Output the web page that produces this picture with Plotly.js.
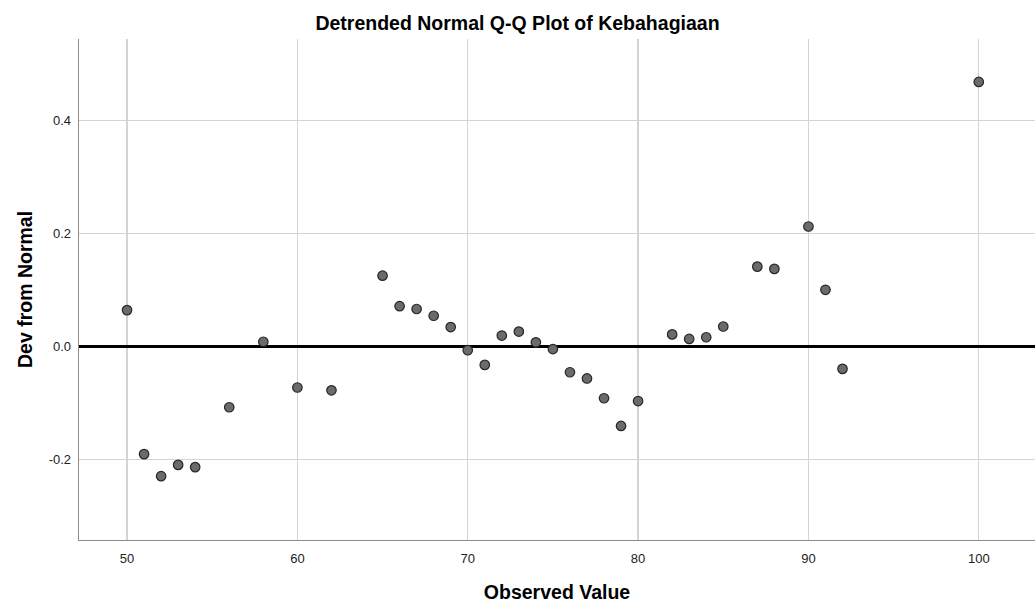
<!DOCTYPE html>
<html>
<head>
<meta charset="utf-8">
<script src="https://cdn.plot.ly/plotly-3.0.1.min.js"></script>
<style>html,body{margin:0;padding:0;background:#fff;}#chart{width:1035px;height:606px;}</style>
</head>
<body>
<div id="chart"></div>
<script>
const observedValues = [50, 51, 52, 53, 54, 56, 58, 60, 62, 65, 66, 67, 68, 69, 70, 71, 72, 73, 74, 75, 76, 77, 78, 79, 80, 82, 83, 84, 85, 87, 88, 90, 91, 92, 100];
const devFromNormal = [0.064, -0.191, -0.230, -0.210, -0.214, -0.108, 0.008, -0.073, -0.078, 0.125, 0.071, 0.066, 0.054, 0.034, -0.007, -0.033, 0.019, 0.026, 0.007, -0.005, -0.046, -0.057, -0.092, -0.141, -0.097, 0.021, 0.013, 0.016, 0.035, 0.141, 0.137, 0.212, 0.100, -0.040, 0.468];
const xTicks = [50, 60, 70, 80, 90, 100];
const yTicks = [-0.2, 0.0, 0.2, 0.4];
const chartTitle = "Detrended Normal Q-Q Plot of Kebahagiaan";
const xTitle = "Observed Value";
const yTitle = "Dev from Normal";

const font = "Liberation Sans, Arial, sans-serif";

const trace = {
  type: "scatter",
  mode: "markers",
  x: observedValues,
  y: devFromNormal,
  marker: {size: 9.5, color: "#6b6b6b", line: {color: "#262626", width: 1.2}},
  hoverinfo: "x+y",
  showlegend: false
};

const layout = {
  width: 1035,
  height: 606,
  margin: {l: 79, r: 0, t: 39, b: 66},
  paper_bgcolor: "#ffffff",
  plot_bgcolor: "#ffffff",
  font: {family: font, color: "#222222", size: 13},
  title: {
    text: chartTitle,
    font: {family: font, size: 19.5, color: "#000000", weight: "bold"},
    x: 0.5, xref: "container", xanchor: "center",
    y: 1 - 23 / 606, yref: "container", yanchor: "middle"
  },
  xaxis: {
    range: [47.18, 103.3],
    tickvals: xTicks,
    ticktext: xTicks.map(String),
    ticks: "outside", ticklen: 6, tickcolor: "rgba(0,0,0,0)",
    showgrid: true, gridcolor: "#d4d4d4", gridwidth: 1.4,
    showline: true, linecolor: "#8c8c8c", linewidth: 1.3,
    zeroline: false,
    tickfont: {family: font, size: 13, color: "#222222"},
    title: {text: xTitle, standoff: 20, font: {family: font, size: 19.5, color: "#000000", weight: "bold"}},
    automargin: false, fixedrange: true
  },
  yaxis: {
    range: [-0.343, 0.544],
    tickvals: yTicks,
    ticktext: yTicks.map(v => v.toFixed(1)),
    ticks: "outside", ticklen: 4, tickcolor: "rgba(0,0,0,0)",
    showgrid: true, gridcolor: "#d4d4d4", gridwidth: 1.4,
    showline: true, linecolor: "#8c8c8c", linewidth: 1.3,
    zeroline: true, zerolinecolor: "#000000", zerolinewidth: 3.5,
    tickfont: {family: font, size: 13, color: "#222222"},
    title: {text: yTitle, standoff: 11, font: {family: font, size: 19.5, color: "#000000", weight: "bold"}},
    automargin: false, fixedrange: true
  }
};

Plotly.newPlot("chart", [trace], layout, {displayModeBar: false, staticPlot: true});
</script>
</body>
</html>
